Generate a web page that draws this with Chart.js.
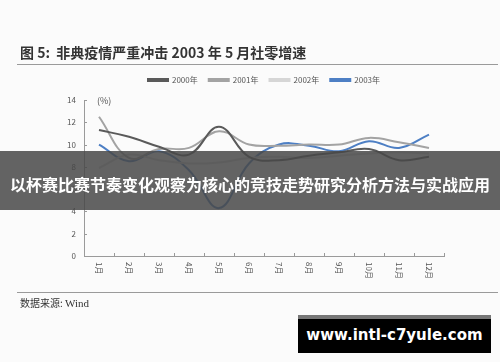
<!DOCTYPE html>
<html>
<head>
<meta charset="utf-8">
<script src="https://cdn.jsdelivr.net/npm/chart.js@4.4.0/dist/chart.umd.min.js"></script>
<style>
  body { margin: 0; background: #fbfbfb; }
  #wrap { position: relative; width: 500px; height: 362px; overflow: hidden; font-family: "Noto Sans CJK SC", sans-serif; }
  #mychart { position: absolute; left: 0; top: 0; }
  .title { position: absolute; left: 20px; top: 42px; font-size: 14px; font-weight: bold; color: #333; white-space: nowrap; }
  .rule { position: absolute; left: 17px; width: 481px; height: 1px; background: #9a9a9a; }
  .source { position: absolute; left: 20px; top: 295px; font-size: 10px; color: #333; }
  .source span { font-family: "Liberation Serif", serif; font-size: 11px; }
  .band { position: absolute; left: 0; top: 151px; width: 500px; height: 51px; padding-top: 8px; background: rgba(72,72,72,0.85); color: #fff; font-weight: bold; font-size: 16px; line-height: 51px; text-align: center; white-space: nowrap; }
  .mark { position: absolute; left: 298px; top: 315px; width: 193px; height: 38px; background: #000; border-top: 4px solid #777; box-sizing: border-box; color: #fff; font-family: "DejaVu Sans", sans-serif; font-weight: bold; font-size: 15px; line-height: 33px; text-align: center; }
</style>
</head>
<body>
<div id="wrap">
  <canvas id="mychart" width="500" height="362"></canvas>
  <div class="title">图 5:&nbsp; 非典疫情严重冲击 2003 年 5 月社零增速</div>
  <div class="rule" style="top:64px"></div>
  <div class="rule" style="top:292px"></div>
  <div class="source">数据来源: <span>Wind</span></div>
  <div class="band">以杯赛比赛节奏变化观察为核心的竞技走势研究分析方法与实战应用</div>
  <div class="mark">www.intl-c7yule.com</div>
</div>
<script>
// monthly retail sales growth, %
const months = ['1月', '2月', '3月', '4月', '5月', '6月', '7月', '8月', '9月', '10月', '11月', '12月'];
const y2000 = [11.3, 10.7, 9.8, 9.1, 11.6, 8.9, 8.6, 9.0, 9.3, 9.6, 8.6, 8.9];
const y2001 = [12.5, 8.8, 9.6, 9.7, 11.2, 10.0, 9.9, 10.0, 10.0, 10.6, 10.2, 9.7];
const y2002 = [7.9, 9.1, 8.6, 8.3, 8.4, 8.8, 8.9, 8.8, 9.0, 9.2, 9.3, 9.2];
const y2003 = [10.0, 8.5, 9.4, 7.7, 4.3, 8.3, 10.0, 9.9, 9.4, 10.3, 9.7, 10.9];
const yTicks = [0, 2, 4, 6, 8, 10, 12, 14];

const axisColor = '#9a9a9a';
const textColor = '#555';

// ticks point into the plot, x labels turned clockwise
const axisExtras = {
    id: 'axisExtras',
    beforeDatasetsDraw(chart) {
        const { ctx, chartArea: a, scales: { x, y } } = chart;
        ctx.save();
        ctx.strokeStyle = axisColor;
        ctx.lineWidth = 1;
        ctx.beginPath();
        y.ticks.forEach((t, i) => {
            const py = Math.round(y.getPixelForTick(i)) + 0.5;
            ctx.moveTo(a.left, py);
            ctx.lineTo(a.left + 3, py);
        });
        const half = (x.getPixelForValue(1) - x.getPixelForValue(0)) / 2;
        months.forEach((m, i) => {
            const px = Math.round(x.getPixelForValue(i) + half) + 0.5;
            ctx.moveTo(px, a.bottom);
            ctx.lineTo(px, a.bottom - 3);
        });
        ctx.stroke();
        ctx.restore();
    },
    afterDraw(chart) {
        const { ctx, chartArea: a, scales: { x } } = chart;
        ctx.save();
        ctx.fillStyle = textColor;
        ctx.font = '8px "Noto Sans CJK SC"';
        ctx.textBaseline = 'middle';
        ctx.textAlign = 'left';
        months.forEach((m, i) => {
            ctx.save();
            ctx.translate(x.getPixelForValue(i), a.bottom + 6);
            ctx.rotate(Math.PI / 2);
            ctx.fillText(m, 0, 0);
            ctx.restore();
        });
        ctx.font = '9px "Noto Sans CJK SC"';
        ctx.fillText('(%)', a.left + 13, a.top + 1);
        ctx.restore();
    }
};

function series(label, data, color) {
    return {
        label: label,
        data: data,
        borderColor: color,
        backgroundColor: color,
        borderWidth: 2,
        pointRadius: 0,
        tension: 0.4
    };
}

const ctx = document.getElementById('mychart').getContext('2d');
const myChart = new Chart(ctx, {
    type: 'line',
    data: {
        labels: months,
        datasets: [
            series('2000年', y2000, '#5a5a5a'),
            series('2001年', y2001, '#a3a3a3'),
            series('2002年', y2002, '#d6d6d6'),
            series('2003年', y2003, '#4d7fc4')
        ]
    },
    options: {
        responsive: false,
        animation: false,
        layout: { padding: { left: 44, right: 56, top: 65, bottom: 106 } },
        plugins: {
            // empty title used only as a gap between legend and plot
            title: { display: true, text: '', weight: 500, padding: 0, font: { size: 5 } },
            legend: {
                position: 'top',
                fullSize: false,
                labels: {
                    boxWidth: 20,
                    boxHeight: 2,
                    padding: 11,
                    color: textColor,
                    font: { size: 8, family: '"Noto Sans CJK SC"' }
                }
            },
            tooltip: { enabled: false }
        },
        scales: {
            x: {
                offset: true,
                grid: { offset: true, drawOnChartArea: false, drawTicks: false },
                border: { color: axisColor },
                ticks: { display: false },
                afterFit: s => { s.height = 0; }
            },
            y: {
                min: 0,
                max: 14,
                afterBuildTicks: s => { s.ticks = yTicks.map(v => ({ value: v })); },
                grid: { drawOnChartArea: false, drawTicks: false },
                border: { color: axisColor },
                ticks: { padding: 8, color: textColor, font: { size: 8, family: '"Noto Sans CJK SC"' } },
                afterFit: s => { s.width = 40; }
            }
        }
    },
    plugins: [axisExtras]
});
</script>
</body>
</html>
